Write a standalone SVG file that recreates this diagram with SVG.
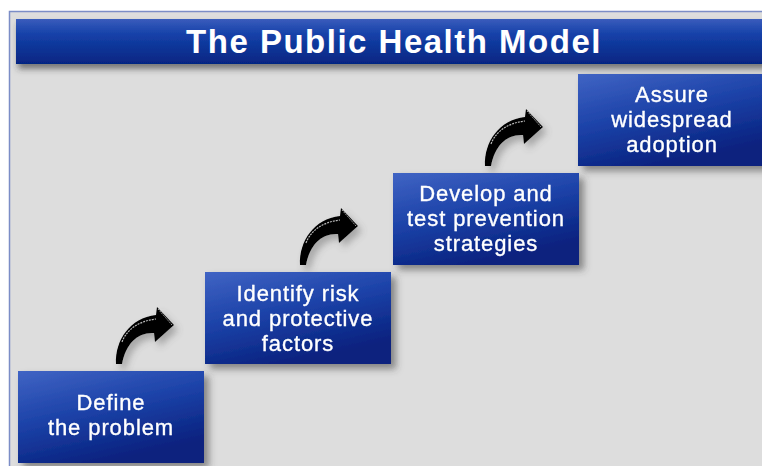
<svg xmlns="http://www.w3.org/2000/svg" width="762" height="466" viewBox="0 0 762 466">
<defs>
<linearGradient id="titleGrad" x1="0" y1="0" x2="0" y2="1">
<stop offset="0" stop-color="#3a5cbc"/>
<stop offset="0.35" stop-color="#1440a8"/>
<stop offset="1" stop-color="#062682"/>
</linearGradient>
<linearGradient id="boxGrad" x1="0" y1="0" x2="0.45" y2="1">
<stop offset="0" stop-color="#4064c4"/>
<stop offset="0.5" stop-color="#1c42a8"/>
<stop offset="1" stop-color="#08217e"/>
</linearGradient>
<filter id="shadow" x="-10%" y="-10%" width="130%" height="140%">
<feDropShadow dx="5" dy="5" stdDeviation="3.5" flood-color="#404040" flood-opacity="0.55"/>
</filter>
<filter id="titleShadow" x="-5%" y="-20%" width="110%" height="160%">
<feDropShadow dx="2" dy="5" stdDeviation="3" flood-color="#303030" flood-opacity="0.6"/>
</filter>
<filter id="arrowShadow" x="-30%" y="-30%" width="170%" height="170%">
<feDropShadow dx="4" dy="5" stdDeviation="3.5" flood-color="#606060" flood-opacity="0.45"/>
</filter>
<g id="arrow">
<path d="M116,364 C115,340 130,318 156,315 L157,307 L174,325 L155,342 L154,333 C138,332 126,343 122,364 Z" fill="#000"/>
<path d="M122,342 C127,329 139,321 156,319" fill="none" stroke="#d8d8d8" stroke-width="1.2" stroke-dasharray="2 1" opacity="0.85"/>
<path d="M158,309 L172,325" fill="none" stroke="#cfcfcf" stroke-width="1" stroke-dasharray="1.5 1" opacity="0.8"/>
</g>
</defs>
<style>
.box { fill: url(#boxGrad); filter: url(#shadow); }
.label { font-family: "Liberation Sans", Arial, sans-serif; font-size: 22px; fill: #ffffff; stroke: #ffffff; stroke-width: 0.35px; text-anchor: middle; letter-spacing: 0.9px; }
.title { font-family: "Liberation Sans", Arial, sans-serif; font-size: 33px; font-weight: bold; fill: #ffffff; text-anchor: middle; letter-spacing: 1.5px; }
</style>
<rect x="0" y="0" width="762" height="466" fill="#ffffff"/>
<rect x="9.5" y="11.5" width="760" height="460" fill="#dddddd" stroke="#7b8dc6" stroke-width="1.5"/>
<g id="title">
<rect x="16" y="19" width="750" height="45" fill="url(#titleGrad)" filter="url(#titleShadow)"/>
<text class="title" x="394" y="53">The Public Health Model</text>
</g>
<g id="connectors" filter="url(#arrowShadow)">
<use href="#arrow"/>
<use href="#arrow" transform="translate(184,-99)"/>
<use href="#arrow" transform="translate(369,-198)"/>
</g>
<g id="node1">
<rect class="box" x="18" y="371" width="186" height="92"/>
<text class="label" x="111" y="410">Define</text>
<text class="label" x="111" y="435">the problem</text>
</g>
<g id="node2">
<rect class="box" x="205" y="272" width="186" height="92"/>
<text class="label" x="298" y="301">Identify risk</text>
<text class="label" x="298" y="326">and protective</text>
<text class="label" x="298" y="351">factors</text>
</g>
<g id="node3">
<rect class="box" x="393" y="173" width="186" height="92"/>
<text class="label" x="486" y="201">Develop and</text>
<text class="label" x="486" y="226">test prevention</text>
<text class="label" x="486" y="251">strategies</text>
</g>
<g id="node4">
<rect class="box" x="578" y="74" width="190" height="92"/>
<text class="label" x="672" y="102">Assure</text>
<text class="label" x="672" y="127">widespread</text>
<text class="label" x="672" y="152">adoption</text>
</g>
</svg>
